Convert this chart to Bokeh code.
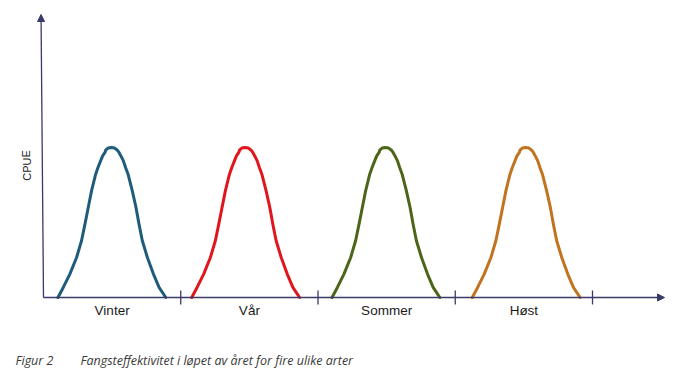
from bokeh.plotting import figure
from bokeh.models import Arrow, NormalHead, Label, ColumnDataSource
from bokeh.embed import file_html
from bokeh.resources import INLINE
from bokeh.core.properties import value

# ---- data ----
seasons = ["Vinter", "Vår", "Sommer", "Høst"]
season_peaks = [0.494, 1.469, 2.491, 3.513]      # peak position (season units)
season_ticks = [1, 2, 3, 4]
colors = ["#1f5c7c", "#e0161c", "#4b6618", "#c2731f"]
# bell shape: offset from peak (season units), relative CPUE
shape_offset = [-0.389, -0.350, -0.302, -0.253, -0.217, -0.192, -0.168, -0.144,
                -0.114, -0.097, -0.078, -0.063, -0.046, -0.041, -0.024, 0.0,
                0.024, 0.044, 0.056, 0.070, 0.088, 0.104, 0.122, 0.153, 0.180,
                0.202, 0.226, 0.263, 0.307, 0.348, 0.397]
shape_cpue = [0.0, 0.067, 0.156, 0.267, 0.378, 0.489, 0.600, 0.711,
              0.822, 0.867, 0.911, 0.944, 0.967, 0.982, 0.996, 1.0,
              0.996, 0.982, 0.967, 0.944, 0.911, 0.867, 0.822, 0.711, 0.600,
              0.489, 0.378, 0.267, 0.156, 0.067, 0.0]
caption_num = "Figur 2"
caption_text = "Fangsteffektivitet i løpet av året for fire ulike arter"
y_title = "CPUE"

W, H = 684, 373
px_per_x = 137.25
px_per_y = 150.0
x0_px = 43.0
base_px = 297.0

p = figure(width=W, height=H, output_backend="svg", toolbar_location=None,
           x_range=(-x0_px / px_per_x, (W - x0_px) / px_per_x),
           y_range=(-(H - base_px) / px_per_y, base_px / px_per_y),
           min_border=0, outline_line_color=None)
p.axis.visible = False
p.grid.visible = False
p.background_fill_color = "white"

axis_col = "#3a3a68"

# curves
for pk, col in zip(season_peaks, colors):
    src = ColumnDataSource(dict(x=[pk + o for o in shape_offset], y=shape_cpue))
    p.line("x", "y", source=src, line_color=col, line_width=3.0,
           line_join="round", line_cap="round")

# axes with arrows
p.add_layout(Arrow(end=NormalHead(size=7, fill_color=axis_col, line_color=axis_col),
                   x_start=0, y_start=0, x_end=(664 - x0_px) / px_per_x, y_end=0,
                   line_color=axis_col, line_width=1.3))
p.add_layout(Arrow(end=NormalHead(size=7, fill_color=axis_col, line_color=axis_col),
                   x_start=0, y_start=0, x_end=-0.018, y_end=(base_px - 14) / px_per_y,
                   line_color=axis_col, line_width=1.3))

# ticks
p.segment(x0=season_ticks, x1=season_ticks, y0=[-7 / px_per_y] * 4,
          y1=[7 / px_per_y] * 4, line_color=axis_col, line_width=1.3)

# season labels
p.text(x=[i + 0.5 for i in range(4)], y=[-13 / px_per_y] * 4, text=seasons,
       text_align="center", text_baseline="middle", text_font=value("Liberation Sans"),
       text_font_size="13.5px", text_color="#1a1a1a")

# y title
p.add_layout(Label(x=26, y=H - 165, x_units="screen", y_units="screen", text=y_title,
                   angle=1.5708, text_align="center", text_baseline="middle",
                   text_font="Liberation Sans", text_font_size="11px",
                   text_color="#1a1a1a"))

# caption
p.add_layout(Label(x=15, y=H - 360, x_units="screen", y_units="screen", text=caption_num,
                   text_align="left", text_baseline="middle", text_font="Open Sans",
                   text_font_style="italic", text_font_size="12.5px", text_color="#3a3a3a"))
p.add_layout(Label(x=80, y=H - 360, x_units="screen", y_units="screen", text=caption_text,
                   text_align="left", text_baseline="middle", text_font="Open Sans",
                   text_font_style="italic", text_font_size="12.5px", text_color="#3a3a3a"))

open("out.html", "w").write(file_html(p, INLINE))
